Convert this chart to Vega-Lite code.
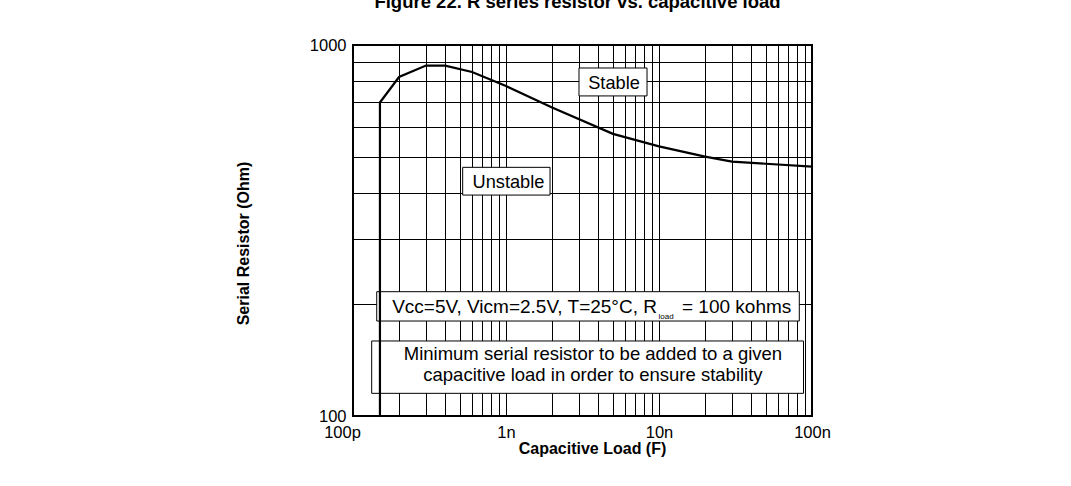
{
  "$schema": "https://vega.github.io/schema/vega-lite/v6.json",
  "width": 459,
  "height": 371,
  "autosize": "none",
  "padding": {"left": 353, "top": 45, "right": 259, "bottom": 70},
  "background": "white",
  "title": {
    "text": "Figure 22. R series resistor vs. capacitive load",
    "font": "Liberation Sans",
    "fontSize": 18.5,
    "fontWeight": "bold",
    "color": "black",
    "anchor": "middle",
    "frame": "group",
    "baseline": "alphabetic",
    "offset": 11,
    "dx": -5
  },
  "config": {
    "view": {"stroke": "black", "strokeWidth": 2},
    "font": "Liberation Sans",
    "axis": {
      "grid": true,
      "gridColor": "black",
      "gridOpacity": 1,
      "gridWidth": 1,
      "ticks": false,
      "domain": false,
      "labelFont": "Liberation Sans",
      "labelFontSize": 16.5,
      "labelColor": "black",
      "labelOverlap": false,
      "labelBound": false,
      "labelFlush": false,
      "titleFont": "Liberation Sans",
      "titleFontSize": 16,
      "titleFontWeight": "bold",
      "titleColor": "black"
    }
  },
  "datasets": {
    "curve": [
      {"i": 0, "c": 1.5e-10, "r": 100},
      {"i": 1, "c": 1.5e-10, "r": 700},
      {"i": 2, "c": 2.0e-10, "r": 820},
      {"i": 3, "c": 3.0e-10, "r": 880},
      {"i": 4, "c": 4.0e-10, "r": 880},
      {"i": 5, "c": 6.0e-10, "r": 846},
      {"i": 6, "c": 1.0e-9, "r": 775},
      {"i": 7, "c": 2.0e-9, "r": 678},
      {"i": 8, "c": 5.0e-9, "r": 576},
      {"i": 9, "c": 1.0e-8, "r": 533},
      {"i": 10, "c": 2.0e-8, "r": 500},
      {"i": 11, "c": 3.0e-8, "r": 485},
      {"i": 12, "c": 1.0e-7, "r": 470}
    ],
    "boxes": [
      {"name": "stable", "c1": 3.0e-9, "c2": 8.35e-9, "r1": 867, "r2": 729},
      {"name": "unstable", "c1": 5.21e-10, "c2": 1.94e-9, "r1": 468, "r2": 394},
      {"name": "cond", "c1": 1.429e-10, "c2": 8.26e-8, "r1": 216.3, "r2": 180.3},
      {"name": "note", "c1": 1.325e-10, "c2": 8.8e-8, "r1": 159.3, "r2": 115.1}
    ],
    "labels": [
      {"t": "Stable", "c": 5.08e-9, "r": 759.6, "align": "center", "size": 18.2},
      {"t": "Unstable", "c": 1.038e-9, "r": 411, "align": "center", "size": 18.2},
      {"t": "Vcc=5V, Vicm=2.5V, T=25°C, R", "c": 9.7e-9, "r": 189.8, "align": "right", "size": 19},
      {"t": "load", "c": 9.92e-9, "r": 182.5, "align": "left", "size": 8},
      {"t": "= 100 kohms", "c": 1.413e-8, "r": 189.8, "align": "left", "size": 19},
      {"t": "Minimum serial resistor to be added to a given", "c": 3.7e-9, "r": 141.2, "align": "center", "size": 18.5},
      {"t": "capacitive load in order to ensure stability", "c": 3.7e-9, "r": 123.9, "align": "center", "size": 18.5}
    ]
  },
  "encoding": {},
  "layer": [
    {
      "data": {"name": "boxes"},
      "mark": {"type": "rect", "fill": "white", "stroke": "black", "strokeWidth": 1},
      "encoding": {
        "x": {
          "field": "c1", "type": "quantitative",
          "scale": {"type": "log", "domain": [1e-10, 1e-7], "nice": false},
          "axis": {
            "title": "Capacitive Load (F)",
            "titlePadding": 0,
            "titleX": 239,
            "labelPadding": 8,
            "labelOffset": {"condition": {"test": "datum.value < 1.05e-10", "value": -11}, "value": 0},
            "values": [1e-10, 2e-10, 3e-10, 4e-10, 5e-10, 6e-10, 7e-10, 8e-10, 9e-10, 1e-9, 2e-9, 3e-9, 4e-9, 5e-9, 6e-9, 7e-9, 8e-9, 9e-9, 1e-8, 2e-8, 3e-8, 4e-8, 5e-8, 6e-8, 7e-8, 8e-8, 9e-8, 1e-7],
            "labelExpr": "datum.value < 1.05e-10 ? '100p' : (datum.value > 0.99e-9 && datum.value < 1.01e-9) ? '1n' : (datum.value > 0.99e-8 && datum.value < 1.01e-8) ? '10n' : datum.value > 0.99e-7 ? '100n' : ''"
          }
        },
        "x2": {"field": "c2"},
        "y": {
          "field": "r1", "type": "quantitative",
          "scale": {"type": "log", "domain": [100, 1000], "nice": false},
          "axis": {
            "title": "Serial Resistor (Ohm)",
            "titlePadding": 58,
            "titleY": 198,
            "labelPadding": 7,
            "values": [100, 200, 300, 400, 500, 600, 700, 800, 900, 1000],
            "labelExpr": "datum.value == 100 ? '100' : datum.value == 1000 ? '1000' : ''"
          }
        },
        "y2": {"field": "r2"}
      }
    },
    {
      "data": {"name": "labels"},
      "transform": [{"filter": "datum.align == 'center'"}],
      "mark": {"type": "text", "baseline": "alphabetic", "align": "center", "color": "black", "font": "Liberation Sans"},
      "encoding": {
        "x": {"field": "c", "type": "quantitative"},
        "y": {"field": "r", "type": "quantitative"},
        "text": {"field": "t"},
        "size": {"field": "size", "type": "quantitative", "scale": null}
      }
    },
    {
      "data": {"name": "labels"},
      "transform": [{"filter": "datum.align == 'right'"}],
      "mark": {"type": "text", "baseline": "alphabetic", "align": "right", "color": "black", "font": "Liberation Sans"},
      "encoding": {
        "x": {"field": "c", "type": "quantitative"},
        "y": {"field": "r", "type": "quantitative"},
        "text": {"field": "t"},
        "size": {"field": "size", "type": "quantitative", "scale": null}
      }
    },
    {
      "data": {"name": "labels"},
      "transform": [{"filter": "datum.align == 'left'"}],
      "mark": {"type": "text", "baseline": "alphabetic", "align": "left", "color": "black", "font": "Liberation Sans"},
      "encoding": {
        "x": {"field": "c", "type": "quantitative"},
        "y": {"field": "r", "type": "quantitative"},
        "text": {"field": "t"},
        "size": {"field": "size", "type": "quantitative", "scale": null}
      }
    },
    {
      "data": {"name": "curve"},
      "mark": {"type": "line", "color": "black", "strokeWidth": 2.2, "clip": true},
      "encoding": {
        "x": {"field": "c", "type": "quantitative"},
        "y": {"field": "r", "type": "quantitative"},
        "order": {"field": "i", "type": "quantitative"}
      }
    }
  ]
}
